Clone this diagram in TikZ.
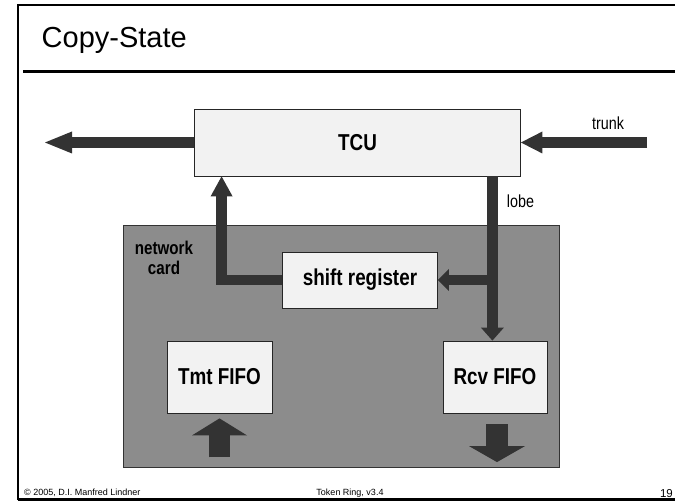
\documentclass[tikz,border=0pt]{standalone}
\usepackage{fontspec}
\setmainfont{Liberation Sans}
\newfontfamily\narrowfont{Liberation Sans}[FakeStretch=0.82]
\usetikzlibrary{arrows.meta,calc}
\definecolor{cardgray}{HTML}{8C8C8C}
\definecolor{arrgray}{HTML}{333333}
\definecolor{boxfill}{HTML}{F2F2F2}
\tikzset{
  boxnode/.style={draw=black!85, fill=boxfill, line width=0.8pt, inner sep=0pt,
    font=\narrowfont\bfseries\fontsize{23}{26}\selectfont},
  pipe/.style={draw=arrgray, line width=10.5pt, line join=miter},
  fatpipe/.style={draw=arrgray, line width=21.5pt, line join=miter},
  smalltext/.style={font=\narrowfont\fontsize{17.5}{19}\selectfont, inner sep=0pt},
  foot/.style={font=\fontsize{9}{10}\selectfont, inner sep=0pt}
}
\begin{document}
\begin{tikzpicture}[x=1pt,y=-1pt]
\useasboundingbox (0,0) rectangle (675,502);
\fill[white] (0,0) rectangle (675,502);
% slide frame
\draw[line width=2pt] (17.5,500) -- (17.5,5) -- (675,5);
\draw[line width=2.5pt] (23,71.5) -- (675,71.5);
\draw[line width=2.5pt] (17.5,499.5) -- (675,499.5);
\node[anchor=base west, font=\fontsize{29}{34}\selectfont, inner sep=0pt] (title) at (41.5,47.7) {Copy-State};
% network card
\node[draw=black!80, fill=cardgray, line width=0.8pt, minimum width=436pt, minimum height=242pt, inner sep=0pt] (card) at (341,346) {};
\node[align=center, font=\narrowfont\bfseries\fontsize{18.5}{20.5}\selectfont, inner sep=0pt] (nc) at (164,258) {network\\card};
% boxes
\node[boxnode, minimum width=326pt, minimum height=67pt] (tcu) at (357.5,142.5) {TCU};
\node[boxnode, minimum width=155pt, minimum height=56pt] (shift) at (360,280) {shift register};
\node[boxnode, minimum width=105pt, minimum height=72pt] (tmt) at (219.5,377) {Tmt FIFO};
\node[boxnode, minimum width=104pt, minimum height=72pt] (rcv) at (495,377) {Rcv FIFO};
% connectors
\coordinate (outL) at (45,142.5);
\coordinate (trunkS) at (647,142.5);
\coordinate (lobetop) at ([xshift=-28.5pt]tcu.south east);
\draw[pipe, -{Triangle[width=22pt,length=27pt,line width=0pt]}] (tcu.west) -- (outL);
\draw[pipe, -{Triangle[width=22pt,length=21.5pt,line width=0pt]}] (trunkS) -- (tcu.east);
\draw[pipe, -{Triangle[width=23pt,length=13pt,line width=0pt]}] (lobetop) -- (lobetop |- rcv.north);
\draw[pipe, -{Triangle[width=22pt,length=11pt,line width=0pt]}] ([xshift=5.5pt]lobetop |- shift.east) -- (shift.east);
\draw[pipe, -{Triangle[width=22pt,length=20pt,line width=0pt]}] (shift.west) -| ([xshift=27.5pt]tcu.south west);
\draw[fatpipe, -{Triangle[width=55pt,length=17pt,line width=0pt]}] ([yshift=-44pt]tmt.south) -- ([yshift=-5pt]tmt.south);
\draw[fatpipe, -{Triangle[width=56pt,length=16pt,line width=0pt]}] ([xshift=2pt,yshift=-11pt]rcv.south) -- ([xshift=2pt,yshift=-48.7pt]rcv.south);
% labels
\node[smalltext, anchor=base] (trunk) at (608,129.3) {trunk};
\node[smalltext, anchor=base west] (lobe) at (506.7,207.3) {lobe};
% footer
\node[foot, anchor=base west] (f1) at (24,495.7) {© 2005, D.I. Manfred Lindner};
\node[foot, anchor=base] (f2) at (350,495.7) {Token Ring, v3.4};
\node[font=\fontsize{11.5}{12}\selectfont, inner sep=0pt, anchor=base east] (f3) at (673,497.5) {19};
\end{tikzpicture}
\end{document}
